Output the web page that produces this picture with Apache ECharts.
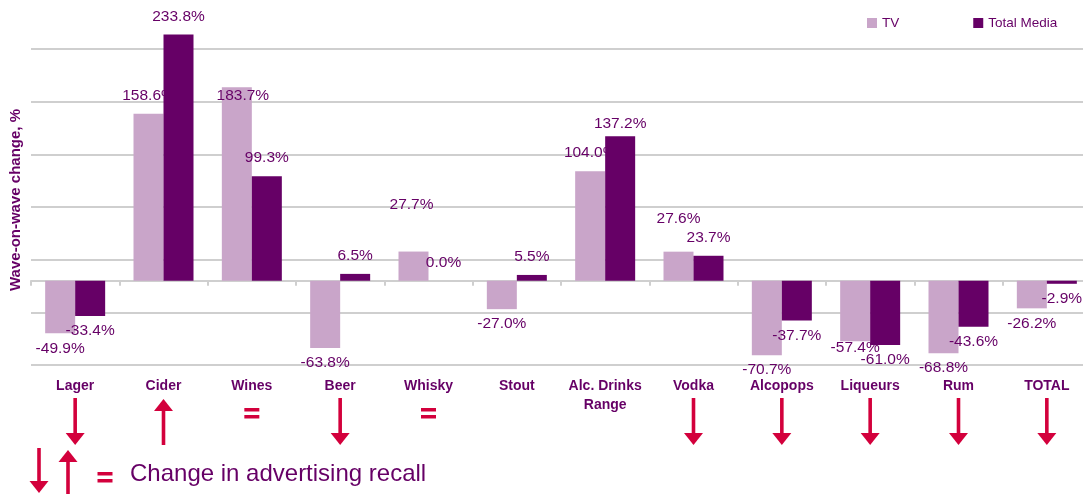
<!DOCTYPE html>
<html>
<head>
<meta charset="utf-8">
<title>Wave-on-wave change</title>
<script src="https://cdn.jsdelivr.net/npm/echarts@6/dist/echarts.min.js"></script>
<style>
    html, body { margin: 0; padding: 0; background: #ffffff; overflow: hidden; }
    /* plot runs a little past the right edge of the window, as in the original */
    #chart { width: 1091px; height: 494px; }
</style>
</head>
<body>
<div id="chart"></div>
<script>
var categories = ['Lager', 'Cider', 'Wines', 'Beer', 'Whisky', 'Stout', 'Alc. Drinks\nRange', 'Vodka', 'Alcopops', 'Liqueurs', 'Rum', 'TOTAL'];
var tvValues = [-49.9, 158.6, 183.7, -63.8, 27.7, -27.0, 104.0, 27.6, -70.7, -57.4, -68.8, -26.2];
var totalMediaValues = [-33.4, 233.8, 99.3, 6.5, 0.0, 5.5, 137.2, 23.7, -37.7, -61.0, -43.6, -2.9];
// change in advertising recall, drawn under each category
var recallChange = ['down', 'up', 'same', 'down', 'same', '', '', 'down', 'down', 'down', 'down', 'down'];
var yMin = -80, yMax = 220, gridStep = 50;

var purple = '#660066', lilac = '#c9a5c9', red = '#d3003c', grey = '#cfcfcf';
var font = '"Liberation Sans", Arial, sans-serif';

// hand placed labels in the original
var tvLabelNudge = {2: [6, 26], 4: [-2, -29], 7: [0, -15], 9: [0, -8]};
var tmLabelNudge = {6: [0, 6]};

function buildData(values, nudge) {
    return values.map(function (v, i) {
        return {
            value: v,
            label: {
                position: v >= 0 ? 'top' : 'bottom',
                distance: v >= 0 ? 10 : 7,
                offset: nudge[i] || [0, 0]
            }
        };
    });
}

var chart = echarts.init(document.getElementById('chart'));

var option = {
    backgroundColor: '#ffffff',
    animation: false,
    textStyle: {fontFamily: font},
    legend: {
        data: ['TV', 'Total Media'],
        left: 862,
        top: 11,
        icon: 'rect',
        itemWidth: 10,
        itemHeight: 10,
        itemGap: 74,
        textStyle: {color: purple, fontSize: 13.5, fontFamily: font}
    },
    grid: {left: 31, right: 0, top: 49, bottom: 129, containLabel: false, outerBoundsMode: 'none'},
    xAxis: [
        {
            type: 'category',
            data: categories,
            position: 'bottom',
            axisLine: {onZero: true, onZeroAxisIndex: 0, lineStyle: {color: grey, width: 2}},
            axisTick: {show: true, length: 5, lineStyle: {color: grey, width: 2}},
            axisLabel: {show: false}
        },
        {
            type: 'category',
            data: categories,
            position: 'bottom',
            axisLine: {show: false, onZero: false},
            axisTick: {show: false},
            axisLabel: {
                color: purple,
                fontWeight: 'bold',
                fontSize: 14,
                fontFamily: font,
                lineHeight: 19,
                margin: 12,
                interval: 0
            }
        }
    ],
    yAxis: [
        {
            type: 'value',
            min: yMin,
            max: yMax,
            name: 'Wave-on-wave change, %',
            nameLocation: 'middle',
            nameRotate: 90,
            nameGap: 8,
            nameTextStyle: {color: purple, fontWeight: 'bold', fontSize: 15, fontFamily: font, padding: [0, 0, 0, 14]},
            axisLine: {show: false},
            axisTick: {show: false},
            axisLabel: {show: false},
            splitLine: {show: false}
        },
        {
            // gridlines only, counted from the bottom of the plot
            type: 'value',
            min: 0,
            max: yMax - yMin,
            interval: gridStep,
            position: 'left',
            axisLine: {show: false},
            axisTick: {show: false},
            axisLabel: {show: false},
            splitLine: {show: true, lineStyle: {color: grey, width: 2}}
        }
    ],
    series: [
        {
            name: 'TV',
            type: 'bar',
            xAxisIndex: 0,
            yAxisIndex: 0,
            barWidth: 30,
            barGap: '0%',
            clip: false,
            z: 2,
            itemStyle: {color: lilac},
            label: {
                show: true,
                color: purple,
                fontSize: 15.5,
                fontFamily: font,
                formatter: function (p) { return p.value.toFixed(1) + '%'; }
            },
            data: buildData(tvValues, tvLabelNudge)
        },
        {
            name: 'Total Media',
            type: 'bar',
            xAxisIndex: 0,
            yAxisIndex: 0,
            barWidth: 30,
            barGap: '0%',
            clip: false,
            z: 3,
            itemStyle: {color: purple},
            label: {
                show: true,
                color: purple,
                fontSize: 15.5,
                fontFamily: font,
                formatter: function (p) { return p.value.toFixed(1) + '%'; }
            },
            data: buildData(totalMediaValues, tmLabelNudge)
        }
    ]
};

chart.setOption(option);

// arrows and equals signs
function arrow(x, top, bottom, up) {
    var head = 12, hw = 9.5, sw = 1.8;
    var style = {fill: red};
    if (up) {
        return [
            {type: 'rect', shape: {x: x - sw, y: top + head, width: sw * 2, height: bottom - top - head}, style: style},
            {type: 'polygon', shape: {points: [[x - hw, top + head], [x + hw, top + head], [x, top]]}, style: style}
        ];
    }
    return [
        {type: 'rect', shape: {x: x - sw, y: top, width: sw * 2, height: bottom - top - head}, style: style},
        {type: 'polygon', shape: {points: [[x - hw, bottom - head], [x + hw, bottom - head], [x, bottom]]}, style: style}
    ];
}

function equals(x, y) {
    return [
        {type: 'rect', shape: {x: x - 7.5, y: y, width: 15, height: 3.5}, style: {fill: red}},
        {type: 'rect', shape: {x: x - 7.5, y: y + 7, width: 15, height: 3.5}, style: {fill: red}}
    ];
}

var marks = [];
recallChange.forEach(function (c, i) {
    var x = chart.convertToPixel({xAxisIndex: 0}, i);
    if (c === 'down') marks = marks.concat(arrow(x, 398, 445, false));
    if (c === 'up') marks = marks.concat(arrow(x, 399, 445, true));
    if (c === 'same') marks = marks.concat(equals(x, 408));
});

// key at the bottom left
marks = marks.concat(arrow(39, 448, 493, false));
marks = marks.concat(arrow(68, 450, 498, true));
marks = marks.concat(equals(105, 472));
marks.push({
    type: 'text',
    left: 130,
    top: 462,
    style: {text: 'Change in advertising recall', fill: purple, fontSize: 24, fontFamily: font}
});

chart.setOption({graphic: marks});
</script>
</body>
</html>
